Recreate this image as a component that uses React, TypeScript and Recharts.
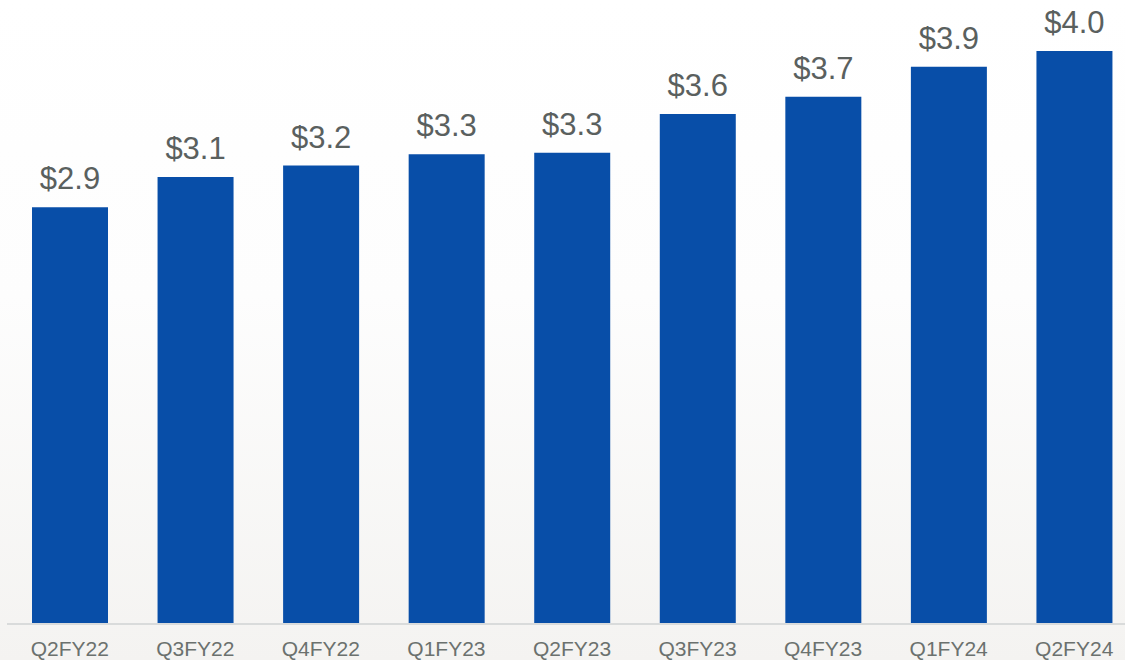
import { BarChart, Bar, XAxis, YAxis, LabelList } from "recharts";

const quarters = [
  "Q2FY22",
  "Q3FY22",
  "Q4FY22",
  "Q1FY23",
  "Q2FY23",
  "Q3FY23",
  "Q4FY23",
  "Q1FY24",
  "Q2FY24",
];

const revenue = [2.91, 3.12, 3.2, 3.28, 3.29, 3.56, 3.68, 3.89, 4.0];

const data = quarters.map((q, i) => ({ quarter: q, value: revenue[i] }));

export default function App() {
  return (
    <div
      style={{
        position: "absolute",
        left: 0,
        top: 0,
        width: 1125,
        height: 660,
        overflow: "hidden",
        background: "linear-gradient(to bottom, #ffffff 0%, #fdfdfd 45%, #f4f3f1 100%)",
        fontFamily: "Liberation Sans, Arial, sans-serif",
      }}
    >
      <BarChart
        width={1140}
        height={660}
        data={data}
        margin={{ top: 51, right: 3, bottom: 0, left: 7 }}
      >
        <XAxis
          dataKey="quarter"
          height={36}
          tickSize={0}
          tickMargin={17}
          tickLine={false}
          axisLine={{ stroke: "#d9dbdb", strokeWidth: 2 }}
          tick={{ fill: "#6b716e", fontSize: 21 }}
          interval={0}
        />
        <YAxis hide domain={[0, 4]} />
        <Bar dataKey="value" fill="#084ea8" barSize={76} isAnimationActive={false}>
          <LabelList
            dataKey="value"
            position="top"
            offset={18}
            fill="#5a605e"
            fontSize={31}
            formatter={(v: any) => `$${Number(v).toFixed(1)}`}
          />
        </Bar>
      </BarChart>
    </div>
  );
}
